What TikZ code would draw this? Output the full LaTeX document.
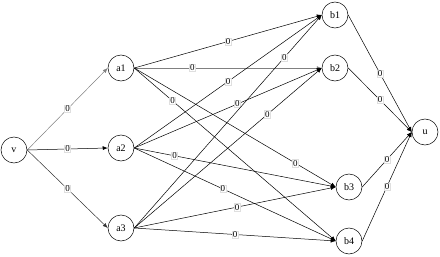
\documentclass[tikz,border=0pt]{standalone}
\usepackage{fontspec}
\setmainfont{Liberation Serif}
\usetikzlibrary{arrows.meta}
\tikzset{
  vtx/.style={circle,draw,minimum size=26pt,inner sep=0pt,font=\fontsize{10}{11}\selectfont},
  wt/.style={fill=white,draw=gray!25,text=black,inner sep=0.7pt,font=\fontsize{9}{10}\selectfont},
}
\begin{document}
\begin{tikzpicture}[x=1pt,y=-1pt,>={Latex[length=5pt,width=4pt]},line width=0.5pt]
  \useasboundingbox (0,0) rectangle (440,257);
  % source, two layers and sink
  \node[vtx] (v) at (14,150) {v};
  \node[vtx] (a1) at (121,68) {a1};
  \node[vtx] (a2) at (121,148) {a2};
  \node[vtx] (a3) at (121,228) {a3};
  \node[vtx] (b1) at (335,15) {b1};
  \node[vtx] (b2) at (335,68) {b2};
  \node[vtx] (b3) at (349,187) {b3};
  \node[vtx] (b4) at (349,241) {b4};
  \node[vtx] (u) at (425,132) {u};
  % v to the a layer
  \draw[->,gray] (v.east) -- node[wt]{0} (a1.west);
  \draw[->] (v.east) -- node[wt]{0} (a2.west);
  \draw[->,black!80] (v.east) -- node[wt]{0} (a3.west);
  % a layer to b layer
  \draw[->,gray,line width=1pt] (a1.east) -- node[wt,pos=0.31]{0} (b2.west);
  \foreach \s/\t/\p in {a1/b1/0.5,a1/b3/0.8,a1/b4/0.19,
                        a2/b1/0.5,a2/b2/0.55,a2/b3/0.2,a2/b4/0.44,
                        a3/b1/0.8,a3/b2/0.71,a3/b3/0.51,a3/b4/0.5}
    \draw[->] (\s.east) -- node[wt,pos=\p]{0} (\t.west);
  % b layer to u
  \foreach \s in {b1,b2,b3,b4}
    \draw[->] (\s.east) -- node[wt]{0} (u.west);
\end{tikzpicture}
\end{document}
